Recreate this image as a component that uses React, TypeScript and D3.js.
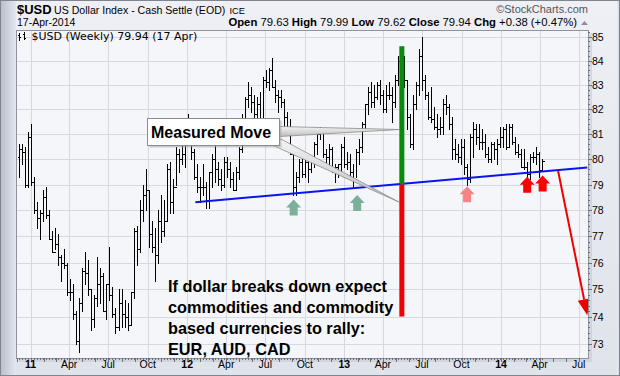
import React from "react";
import * as d3 from "d3";

// ---------- DATA (weekly bars, Mondays from 6 Dec 2010 to 14 Apr 2014) ----------
const firstWeek = new Date(2010, 11, 6);
const lastWeekEnd = new Date(2014, 3, 15);
const firstOpen = 79.6;

const high = [
  80.4, 80.6, 80.6, 80.5,
  81.1, 81.4, 79.3, 78.3, 78.0, 78.8, 78.9, 78.0, 77.2, 77.3, 77.1, 76.3, 76.5, 76.0, 75.4, 75.2, 74.2, 74.7, 75.8, 76.4, 76.1, 75.0,
  74.8, 76.2, 75.8, 75.6, 75.2, 76.6, 75.1, 74.3, 75.0, 75.0, 74.6, 74.5, 74.9, 77.3, 77.4, 78.4, 79.0, 79.6, 78.8, 77.6, 77.3, 78.0,
  78.6, 78.4, 79.8, 79.9, 79.2, 80.5, 80.4, 80.9,
  81.3, 81.8, 81.5, 80.4, 79.8, 79.3, 79.8, 79.1, 79.5, 80.2, 80.7, 79.9, 79.6, 80.1, 80.1, 79.9, 79.5, 79.7, 80.5, 81.8, 82.5, 83.1,
  82.9, 82.6, 82.5, 82.7, 83.3, 83.6, 83.7, 84.1, 83.2, 82.8, 82.8, 82.4, 81.9, 81.6, 80.4, 79.5, 80.0, 80.0, 80.2, 80.0, 80.0, 80.7,
  81.0, 81.3, 81.0, 80.4, 80.6, 80.5, 79.8, 79.8, 80.6,
  80.9, 80.3, 80.2, 79.8, 80.4, 80.8, 81.5, 82.2, 82.9, 83.1, 83.0, 83.1, 83.2, 82.8, 83.0, 83.1, 82.9, 83.4, 84.2, 84.5, 84.2, 83.2,
  81.8, 82.6, 83.1, 84.5, 85.0, 83.4, 82.7, 82.9, 82.1, 81.8, 81.7, 82.4, 82.6, 82.2, 81.7, 80.8, 80.6, 80.8, 80.8, 79.8, 81.0, 81.5,
  81.4, 81.4, 81.2, 81.0, 80.5, 80.7, 80.7, 80.8,
  81.3, 81.3, 81.4, 81.4, 81.4, 80.9, 80.6, 80.4, 80.4, 79.9, 80.2, 80.3, 80.5, 80.3, 79.99,
];

const low = [
  78.9, 79.3, 79.8, 78.9,
  78.9, 79.0, 77.9, 77.3, 76.9, 77.6, 77.7, 76.9, 76.4, 76.5, 75.9, 75.3, 75.8, 74.8, 74.6, 73.9, 73.0, 72.7, 74.2, 75.2, 74.8, 73.5,
  73.6, 74.4, 74.5, 74.2, 73.9, 74.6, 74.0, 73.4, 73.5, 73.6, 73.6, 73.5, 73.7, 74.7, 75.9, 76.4, 77.6, 78.0, 76.6, 76.4, 75.3, 76.0,
  76.8, 77.0, 77.6, 77.9, 77.9, 79.0, 79.5, 79.8,
  79.7, 80.6, 80.0, 79.2, 78.7, 78.3, 78.6, 78.1, 78.1, 78.9, 79.1, 79.0, 78.8, 78.9, 79.3, 78.9, 78.8, 78.8, 79.2, 80.3, 81.2, 82.1,
  81.9, 81.6, 81.3, 81.3, 81.6, 82.9, 82.8, 82.9, 82.3, 81.9, 82.1, 81.3, 81.1, 80.2, 78.6, 78.6, 79.1, 79.3, 79.3, 79.1, 79.5, 79.7,
  80.2, 80.8, 80.1, 79.9, 79.8, 79.5, 79.1, 79.3, 79.4,
  79.7, 79.6, 79.3, 78.9, 79.3, 79.8, 80.3, 81.2, 81.8, 82.1, 82.1, 82.4, 82.2, 81.9, 81.9, 82.4, 81.5, 82.1, 83.0, 83.7, 82.9, 81.2,
  80.5, 80.4, 82.0, 82.6, 82.8, 82.4, 81.6, 81.5, 81.2, 80.9, 81.0, 81.0, 81.8, 81.2, 80.0, 80.0, 79.9, 79.8, 79.4, 79.0, 79.1, 80.1,
  80.6, 80.4, 80.4, 80.1, 79.9, 79.9, 80.0, 79.8,
  80.5, 80.5, 80.4, 80.5, 80.6, 80.2, 80.1, 79.7, 79.6, 79.3, 79.2, 79.9, 79.8, 79.3, 79.62,
];

const close = [
  80.1, 80.4, 80.3, 79.0,
  80.9, 79.1, 78.0, 77.7, 77.9, 78.5, 77.8, 76.9, 76.4, 76.7, 76.2, 76.0, 75.9, 74.9, 74.9, 74.1, 73.1, 74.5, 75.7, 75.6, 75.0, 73.9,
  74.7, 75.2, 75.5, 74.2, 75.2, 74.8, 74.1, 73.6, 74.5, 74.1, 74.0, 73.7, 74.9, 77.2, 76.5, 78.0, 78.6, 78.8, 77.1, 76.6, 76.3, 77.6,
  77.2, 77.6, 79.6, 78.3, 78.9, 80.2, 80.0, 80.2,
  81.2, 81.4, 80.3, 79.3, 78.9, 78.9, 78.9, 78.4, 79.5, 80.0, 79.6, 79.2, 79.0, 79.9, 79.6, 79.2, 78.8, 79.5, 80.4, 81.5, 82.4, 82.6,
  82.3, 81.8, 82.2, 81.6, 83.2, 83.1, 83.6, 82.9, 82.6, 82.5, 82.3, 81.7, 81.2, 80.2, 78.9, 79.3, 79.9, 79.4, 79.9, 79.6, 79.9, 80.6,
  81.0, 81.1, 80.2, 80.1, 80.4, 79.6, 79.7, 79.8, 80.5,
  79.8, 79.9, 79.5, 79.2, 80.3, 80.5, 81.4, 82.2, 82.7, 82.3, 82.5, 83.0, 82.6, 82.0, 82.6, 82.6, 82.3, 83.2, 84.0, 83.9, 83.2, 81.7,
  80.6, 82.2, 83.0, 84.2, 83.2, 82.6, 81.7, 81.6, 81.3, 81.2, 81.3, 82.2, 82.1, 81.4, 80.4, 80.2, 80.1, 80.5, 79.7, 79.2, 80.9, 81.2,
  80.9, 80.7, 80.7, 80.2, 80.0, 80.6, 80.4, 80.6,
  80.9, 81.2, 80.5, 81.3, 80.7, 80.3, 80.2, 79.7, 79.7, 79.4, 80.1, 80.1, 80.2, 79.56, 79.94,
];

const yTickValues = [73, 74, 75, 76, 77, 78, 79, 80, 81, 82, 83, 84, 85];
const xTickLabels = ["11", "Apr", "Jul", "Oct", "12", "Apr", "Jul", "Oct", "13", "Apr", "Jul", "Oct", "14", "Apr", "Jul"];

// annotations (in data coordinates)
const trendStart = { date: new Date(2012, 0, 20), value: 78.31 };
const trendEnd = { date: new Date(2014, 6, 21), value: 79.67 };
const moveDate = new Date(2013, 4, 15);
const moveTop = 84.6;
const moveMid = 79.0;
const moveBottom = 74.0;
const projStart = { date: new Date(2014, 4, 14), value: 79.53 };
const projEnd = { date: new Date(2014, 6, 21), value: 74.05 };
const supportArrows = [
  { date: new Date(2012, 8, 5), value: 78.42, color: "#7cb09a" },
  { date: new Date(2013, 0, 31), value: 78.59, color: "#7cb09a" },
  { date: new Date(2013, 9, 14), value: 78.93, color: "#f78585" },
  { date: new Date(2014, 2, 3), value: 79.3, color: "#ff0000" },
  { date: new Date(2014, 3, 8), value: 79.35, color: "#ff0000" },
];
const noteLines = ["If dollar breaks down expect", "commodities and commodity", "based currencies to rally:", "EUR, AUD, CAD"];

const FONT = "'Liberation Sans', Arial, sans-serif";

export default function App() {
  const W = 620, H = 376;
  const pl = 16, pr = 589, pt = 30, pb = 359;

  const x = d3.scaleTime().domain([new Date(2011, 0, 1), new Date(2014, 0, 1)]).range([30.5, 501]);
  const y = d3.scaleLog().domain([73, 85]).range([344, 36.7]);

  const weeks = d3.timeMonday.range(firstWeek, lastWeekEnd);
  const bx = (d: Date) => Math.round(x(d3.timeDay.offset(d, -7))) + 0.5;
  const ry = (v: number) => Math.round(y(v)) + 0.5;

  let barPath = "";
  weeks.forEach((d, i) => {
    const cx = bx(d);
    if (cx < pl + 1 || high[i] === undefined) return;
    const o = i === 0 ? firstOpen : close[i - 1];
    barPath += `M${cx},${Math.round(y(high[i]))}V${Math.round(y(low[i])) + 1}`;
    barPath += `M${cx - 2},${ry(o)}H${cx}`;
    barPath += `M${cx},${ry(close[i])}H${cx + 2}`;
  });

  const quarters = d3.timeMonth.every(3)!.range(new Date(2011, 0, 1), new Date(2014, 7, 1));
  const months = d3.timeMonth.range(new Date(2010, 11, 1), new Date(2014, 7, 1));

  const minorY: number[] = [];
  for (let v = 72.8; v <= 85.3; v += 0.2) minorY.push(+v.toFixed(1));

  const tx1 = x(trendStart.date), ty1 = y(trendStart.value);
  const tx2 = x(trendEnd.date), ty2 = y(trendEnd.value);

  const mx = x(moveDate);
  const psx = x(projStart.date), psy = y(projStart.value);
  const pex = x(projEnd.date), pey = y(projEnd.value);
  const ang = Math.atan2(pey - psy, pex - psx);
  const headL = 16, headW = 6.5;
  const hbx = pex - headL * Math.cos(ang), hby = pey - headL * Math.sin(ang);
  const headPts = [
    [pex, pey],
    [hbx + headW * Math.sin(ang), hby - headW * Math.cos(ang)],
    [hbx - headW * Math.sin(ang), hby + headW * Math.cos(ang)],
  ];

  const upArrow = (cx: number, top: number, color: string, key: number) => {
    const hw = 7.5, sw = 4, hh = 8, total = 16;
    const d = `M${cx},${top}L${cx + hw},${top + hh}L${cx + sw},${top + hh}L${cx + sw},${top + total}L${cx - sw},${top + total}L${cx - sw},${top + hh}L${cx - hw},${top + hh}Z`;
    return <path key={key} d={d} fill={color} />;
  };

  return (
    <svg width={W} height={H} viewBox={`0 0 ${W} ${H}`} style={{ display: "block", position: "absolute", left: 0, top: 0 }}>
      <defs>
        <linearGradient id="bgv" x1="0" y1="0" x2="0" y2="1">
          <stop offset="0" stopColor="#eef0f5" />
          <stop offset="1" stopColor="#dfe3ea" />
        </linearGradient>
        <linearGradient id="leftg" x1="0" y1="0" x2="1" y2="0">
          <stop offset="0" stopColor="#b8bdc8" />
          <stop offset="1" stopColor="#e2e6ed" />
        </linearGradient>
        <linearGradient id="rightg" x1="0" y1="0" x2="1" y2="0">
          <stop offset="0" stopColor="#eceff4" />
          <stop offset="1" stopColor="#c4c9d3" />
        </linearGradient>
        <linearGradient id="wedge" x1="0" y1="0" x2="0" y2="1">
          <stop offset="0" stopColor="#f4f4f4" />
          <stop offset="1" stopColor="#bdbdbd" />
        </linearGradient>
        <clipPath id="plotclip">
          <rect x={pl} y={pt} width={pr - pl} height={pb - pt} />
        </clipPath>
      </defs>

      {/* frame */}
      <rect x={0} y={0} width={W} height={H} fill="url(#bgv)" />
      <rect x={0} y={0} width={pl} height={H} fill="url(#leftg)" />
      <rect x={pr + 28} y={0} width={W - pr - 28} height={H} fill="url(#rightg)" />
      <rect x={0.5} y={0.5} width={W - 1} height={H - 1} fill="none" stroke="#80858f" />

      {/* header */}
      <text x={17} y={14} fontFamily={FONT} fontSize={13} fontWeight="bold" fill="#000">$USD</text>
      <text x={54} y={14} fontFamily={FONT} fontSize={10.6} fill="#000">US Dollar Index - Cash Settle (EOD)</text>
      <text x={229.5} y={14} fontFamily={FONT} fontSize={9.3} fill="#000">ICE</text>
      <text x={17} y={26} fontFamily={FONT} fontSize={10.5} fill="#000">17-Apr-2014</text>
      <text x={588} y={13} textAnchor="end" fontFamily={FONT} fontSize={11} fill="#555">©StockCharts.com</text>
      <text x={577} y={26} textAnchor="end" fontFamily={FONT} fontSize={11.3} fill="#000">
        <tspan fontWeight="bold">Open</tspan> 79.63 <tspan fontWeight="bold">High</tspan> 79.99 <tspan fontWeight="bold">Low</tspan> 79.62 <tspan fontWeight="bold">Close</tspan> 79.94 <tspan fontWeight="bold">Chg</tspan> +0.38 (+0.47%)
      </text>
      <path d="M581,25L584.5,21L588,25Z" fill="#8a8f99" />

      {/* plot background */}
      <rect x={pl + 3} y={pt + 3} width={pr - pl} height={pb - pt} fill="#c5cad3" opacity={0.6} />
      <rect x={pl} y={pt} width={pr - pl} height={pb - pt} fill="#f5f6fa" />

      {/* grid */}
      <g stroke="#d6d9e1" strokeWidth={1} shapeRendering="crispEdges">
        {yTickValues.map((v) => (
          <line key={v} x1={pl} x2={pr} y1={ry(v)} y2={ry(v)} />
        ))}
        {quarters.map((d, i) => (
          <line key={i} x1={Math.round(x(d)) + 0.5} x2={Math.round(x(d)) + 0.5} y1={pt} y2={pb} />
        ))}
      </g>

      {/* bars */}
      <g clipPath="url(#plotclip)">
        <path d={barPath} stroke="#000" strokeWidth={1} fill="none" shapeRendering="crispEdges" />

        {/* trend line */}
        <line x1={tx1} y1={ty1} x2={tx2} y2={ty2} stroke="#0a14f0" strokeWidth={2} />

        {/* measured move */}
        <rect x={mx - 2.5} y={y(moveTop)} width={5} height={y(moveMid) - y(moveTop)} fill="#0a8a0a" />
        <rect x={mx - 2.5} y={y(moveMid)} width={5} height={y(moveBottom) - y(moveMid)} fill="#f00000" />

        {/* projection arrow */}
        <line x1={psx} y1={psy} x2={hbx} y2={hby} stroke="#f00000" strokeWidth={2} />
        <polygon points={headPts.map((p) => p.join(",")).join(" ")} fill="#f00000" />

        {/* support arrows */}
        {supportArrows.map((a, i) => upArrow(x(a.date), y(a.value), a.color, i))}

        {/* callout */}
        <polygon points={`279,126.5 279,136.5 ${mx - 2},129.5`} fill="url(#wedge)" stroke="#8c8c8c" strokeWidth={0.8} />
        <polygon points={`272,145 281,139 ${mx - 3},202`} fill="url(#wedge)" stroke="#8c8c8c" strokeWidth={0.8} />
        <rect x={149.5} y={120.5} width={132} height={27} fill="#9a9ea6" opacity={0.5} />
        <rect x={147.5} y={118.5} width={132} height={27} fill="#ffffff" stroke="#8c8c8c" />
        <text x={151} y={138} fontFamily={FONT} fontSize={16} fontWeight="bold" fill="#000">Measured Move</text>

        {/* note */}
        {noteLines.map((t, i) => (
          <text key={i} x={168} y={292 + i * 21} fontFamily={FONT} fontSize={16.3} fontWeight="bold" fill="#000">{t}</text>
        ))}
      </g>

      {/* legend inside plot */}
      <path d="M19.5,33V41M18,35H19.5M19.5,37H21M24.5,32V40M23,34H24.5M24.5,38H26" stroke="#000" strokeWidth={1} fill="none" shapeRendering="crispEdges" />
      <text x={31.5} y={39.5} fontFamily="'DejaVu Sans', Verdana, sans-serif" fontSize={11} fill="#000">$USD (Weekly) 79.94 (17 Apr)</text>

      {/* plot border */}
      <rect x={pl + 0.5} y={pt + 0.5} width={pr - pl - 1} height={pb - pt - 1} fill="none" stroke="#8e939d" shapeRendering="crispEdges" />

      {/* right axis ticks and labels */}
      <g stroke="#6a6f78" strokeWidth={1} shapeRendering="crispEdges">
        {minorY.filter((v) => y(v) > pt && y(v) < pb).map((v, i) => (
          <line key={i} x1={pr - 1} x2={pr + 1} y1={ry(v)} y2={ry(v)} />
        ))}
        {yTickValues.map((v) => (
          <line key={"m" + v} x1={pr - 1} x2={pr + 3} y1={ry(v)} y2={ry(v)} />
        ))}
      </g>
      {yTickValues.map((v) => (
        <text key={v} x={592} y={y(v) + 4} fontFamily={FONT} fontSize={10.5} fill="#000">{v}</text>
      ))}

      {/* bottom axis */}
      <g stroke="#6a6f78" strokeWidth={1} shapeRendering="crispEdges">
        {weeks.filter((d) => bx(d) > pl + 1).map((d, i) => (
          <line key={i} x1={bx(d)} x2={bx(d)} y1={pb - 1} y2={pb + 1} />
        ))}
        {months.filter((d) => x(d) > pl && x(d) < pr).map((d, i) => (
          <line key={"mo" + i} x1={Math.round(x(d)) + 0.5} x2={Math.round(x(d)) + 0.5} y1={pb - 1} y2={pb + 3} />
        ))}
      </g>
      {quarters.map((d, i) => (
        <text key={i} x={x(d)} y={368} textAnchor="middle" fontFamily={FONT} fontSize={10.5}
          fontWeight={d.getMonth() === 0 ? "bold" : "normal"} fill="#000">{xTickLabels[i]}</text>
      ))}
    </svg>
  );
}
